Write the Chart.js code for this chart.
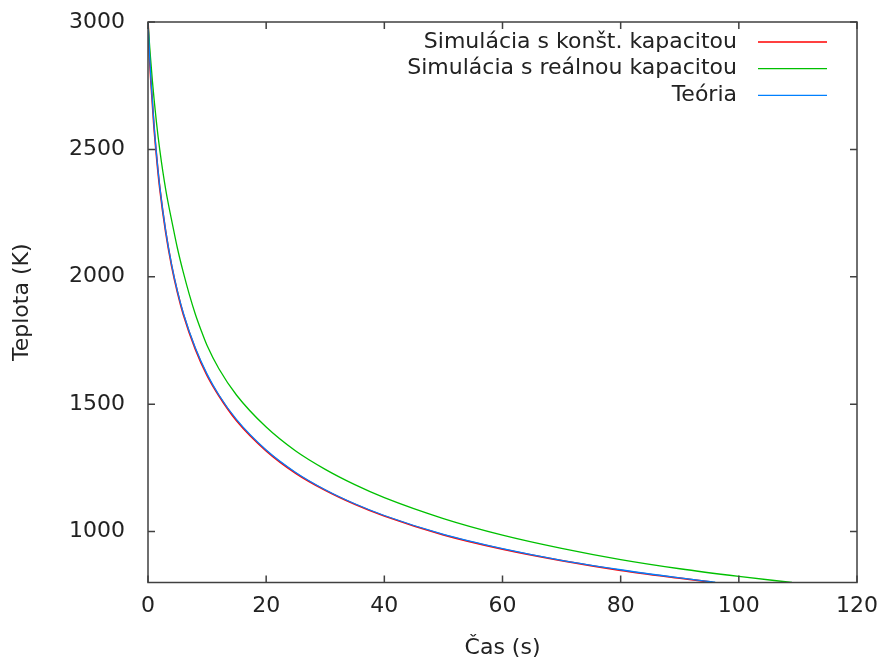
<!DOCTYPE html>
<html>
<head>
<meta charset="utf-8">
<script src="https://cdn.jsdelivr.net/npm/chart.js@4"></script>
<style>
	html, body { margin: 0; padding: 0; background: #fff; }
	#wrap { width: 879px; height: 659px; }
</style>
</head>
<body>
<div id="wrap"><canvas id="chart" width="879" height="659"></canvas></div>
<script>
// Series: time (s) and temperature (K)
const redTime = [0, 0.25, 0.5, 1, 1.5, 2, 3, 4, 5, 6, 8, 10, 12, 15, 20, 25, 30, 35, 40, 50, 60, 70, 80, 90, 95.5];
const redTemp = [3000, 2866, 2765, 2594, 2460, 2347, 2175, 2043, 1938, 1851, 1717, 1613, 1533, 1435, 1317, 1229, 1162, 1107, 1061, 987, 931, 886, 848, 817, 801];

const greenTime = [0, 0.35, 0.75, 1.4, 2, 3, 4.3, 5, 6, 7, 8, 9, 10, 12, 15, 20, 25, 30, 35, 40, 50, 60, 70, 80, 90, 100, 109];
const greenTemp = [3000, 2882, 2767, 2613, 2497, 2342, 2188, 2110, 2015, 1930, 1854, 1789, 1730, 1639, 1535, 1410, 1316, 1244, 1184, 1133, 1051, 986, 934, 890, 854, 824, 800];

const blueTime = [0, 0.25, 0.5, 1, 1.5, 2, 3, 4, 5, 6, 8, 10, 12, 15, 20, 25, 30, 35, 40, 50, 60, 70, 80, 90, 96];
const blueTemp = [3000, 2877, 2772, 2600, 2464, 2352, 2179, 2047, 1942, 1856, 1721, 1618, 1536, 1439, 1320, 1232, 1164, 1109, 1063, 989, 933, 887, 850, 818, 801];

const seriesLabels = ["Simulácia s konšt. kapacitou", "Simulácia s reálnou kapacitou", "Teória"];
const seriesColors = ["rgb(255,0,0)", "rgb(0,192,0)", "rgb(0,128,255)"];

const xTickValues = [0, 20, 40, 60, 80, 100, 120];
const yTickValues = [1000, 1500, 2000, 2500, 3000];

const fontFamily = "'DejaVu Sans', sans-serif";
const textColor = "#222";

function toPoints(times, temps) {
	return times.map((t, i) => ({ x: t, y: temps[i] }));
}

// Keep the plot box fixed, ignore the label overhang padding
function noOverhang(scale) {
	scale.paddingTop = 0;
	scale.paddingBottom = 0;
	scale.paddingLeft = 0;
	scale.paddingRight = 0;
}

// Frame, inward ticks on all sides and a gnuplot style legend
const framePlugin = {
	id: 'frame',
	afterDatasetsDraw(chart) {
		const { ctx, chartArea: area, scales } = chart;
		const tick = 7;
		ctx.save();
		ctx.strokeStyle = '#404040';
		ctx.lineWidth = 1.5;
		ctx.strokeRect(area.left, area.top, area.right - area.left, area.bottom - area.top);
		ctx.beginPath();
		xTickValues.forEach(v => {
			const px = scales.x.getPixelForValue(v);
			ctx.moveTo(px, area.bottom);
			ctx.lineTo(px, area.bottom - tick);
			ctx.moveTo(px, area.top);
			ctx.lineTo(px, area.top + tick);
		});
		yTickValues.forEach(v => {
			const py = scales.y.getPixelForValue(v);
			ctx.moveTo(area.left, py);
			ctx.lineTo(area.left + tick, py);
			ctx.moveTo(area.right, py);
			ctx.lineTo(area.right - tick, py);
		});
		ctx.stroke();

		// legend
		ctx.font = '22px ' + fontFamily;
		ctx.textAlign = 'right';
		ctx.textBaseline = 'middle';
		seriesLabels.forEach((label, i) => {
			const y = 42 + i * 26.7;
			ctx.fillStyle = textColor;
			ctx.fillText(label, 737, y);
			ctx.strokeStyle = seriesColors[i];
			ctx.lineWidth = 1.3;
			ctx.beginPath();
			ctx.moveTo(758, y);
			ctx.lineTo(827, y);
			ctx.stroke();
		});
		ctx.restore();
	}
};

const context = document.getElementById("chart").getContext("2d");

const lineStyle = {
	fill: false,
	pointRadius: 0,
	cubicInterpolationMode: 'monotone'
};

const chart = new Chart(context, {
	type: 'line',
	data: {
		datasets: [
			{
				label: seriesLabels[0],
				data: toPoints(redTime, redTemp),
				borderColor: seriesColors[0],
				borderWidth: 1.8,
				order: 2,
				...lineStyle
			},
			{
				label: seriesLabels[1],
				data: toPoints(greenTime, greenTemp),
				borderColor: seriesColors[1],
				borderWidth: 1.3,
				order: 1,
				...lineStyle
			},
			{
				label: seriesLabels[2],
				data: toPoints(blueTime, blueTemp),
				borderColor: seriesColors[2],
				borderWidth: 1.3,
				order: 0,
				...lineStyle
			}
		]
	},
	options: {
		responsive: false,
		animation: false,
		layout: { autoPadding: false, padding: { top: 22, right: 22, left: 0, bottom: 0 } },
		plugins: {
			legend: { display: false },
			tooltip: { enabled: false }
		},
		scales: {
			x: {
				type: 'linear',
				min: 0,
				max: 120,
				grid: { display: false, drawTicks: false },
				border: { display: false },
				afterBuildTicks: scale => { scale.ticks = xTickValues.map(v => ({ value: v })); },
				afterFit: scale => { scale.height = 76.5; noOverhang(scale); },
				ticks: {
					padding: 11,
					color: textColor,
					maxRotation: 0,
					callback: v => String(v),
					font: { family: fontFamily, size: 22 }
				},
				title: {
					display: true,
					text: 'Čas (s)',
					color: textColor,
					padding: { top: 0, bottom: 0 },
					font: { family: fontFamily, size: 22, lineHeight: 1 }
				}
			},
			y: {
				type: 'linear',
				min: 800,
				max: 3000,
				grid: { display: false, drawTicks: false },
				border: { display: false },
				afterBuildTicks: scale => { scale.ticks = yTickValues.map(v => ({ value: v })); },
				afterFit: scale => { scale.width = 148; noOverhang(scale); },
				ticks: {
					padding: 23,
					color: textColor,
					callback: v => String(v),
					font: { family: fontFamily, size: 22 }
				},
				title: {
					display: true,
					text: 'Teplota (K)',
					color: textColor,
					padding: { top: 11, bottom: 0 },
					font: { family: fontFamily, size: 22, lineHeight: 1 }
				}
			}
		}
	},
	plugins: [framePlugin]
});
</script>
</body>
</html>
